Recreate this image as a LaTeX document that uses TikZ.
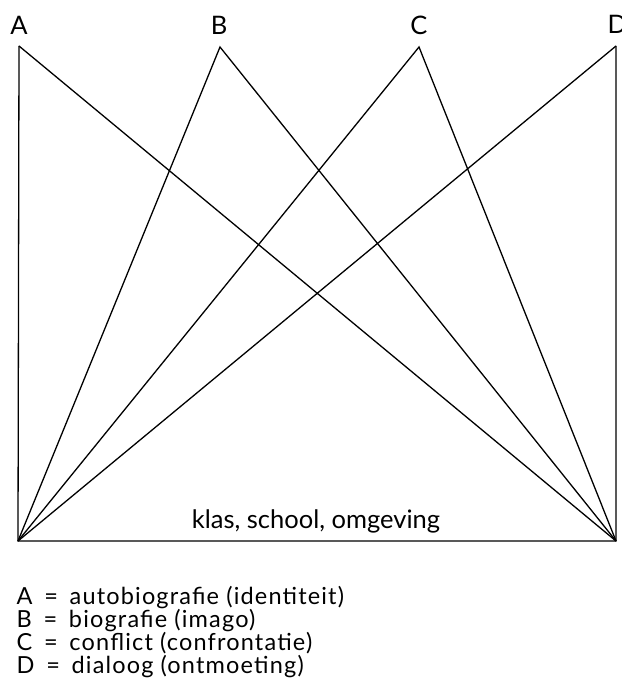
\documentclass[tikz,border=0pt]{standalone}
\usepackage{fontspec}
\setmainfont{Lato}
\newfontfamily\legendfamily[LetterSpace=5]{Lato}
\usetikzlibrary{positioning, calc}
\newcommand{\legeq}{\hspace{0.5em}=\hspace{0.5em}}
\newcommand{\legfont}{\legendfamily\fontsize{23.5}{22.7}\selectfont\lineskiplimit=-30pt\relax}

\begin{document}
\begin{tikzpicture}[x=1pt, y=-1pt, font=\fontsize{25.5}{28}\selectfont, line width=1.3pt,
  toplabel/.style={inner sep=0pt, anchor=base},
  legend/.style={inner sep=0pt, anchor=base west, align=left, font=\legfont}]
  \useasboundingbox (0,0) rectangle (621,690);
  % corners of the frame
  \coordinate (bl) at (18,541);
  \coordinate (br) at (616,541);
  \coordinate (ta) at (19,46);
  \coordinate (tb) at (220,47);
  \coordinate (tc) at (419,47);
  \coordinate (td) at (616,46);
  \node[toplabel] (la) at (19,35) {A};
  \node[toplabel] (lb) at (219,35) {B};
  \node[toplabel] (lc) at (419,35) {C};
  \node[toplabel, anchor=base west] (ld) at (607,34) {D};
  \draw (ta) -- (bl) -- (br) -- (td);
  \draw (ta) -- (br); \draw (td) -- (bl);
  \draw (bl) -- (tb) -- (br);
  \draw (bl) -- (tc) -- (br);
  \node[toplabel] (base) at (316,528) {klas, school, omgeving};
  % legend (base = last line)
  \node[legend] (key) at (16,673) {A\legeq autobiografie (identiteit)\\
    B\legeq biografie (imago)\\
    C\legeq conflict (confrontatie)\\
    D\legeq dialoog (ontmoeting)};
\end{tikzpicture}
\end{document}
